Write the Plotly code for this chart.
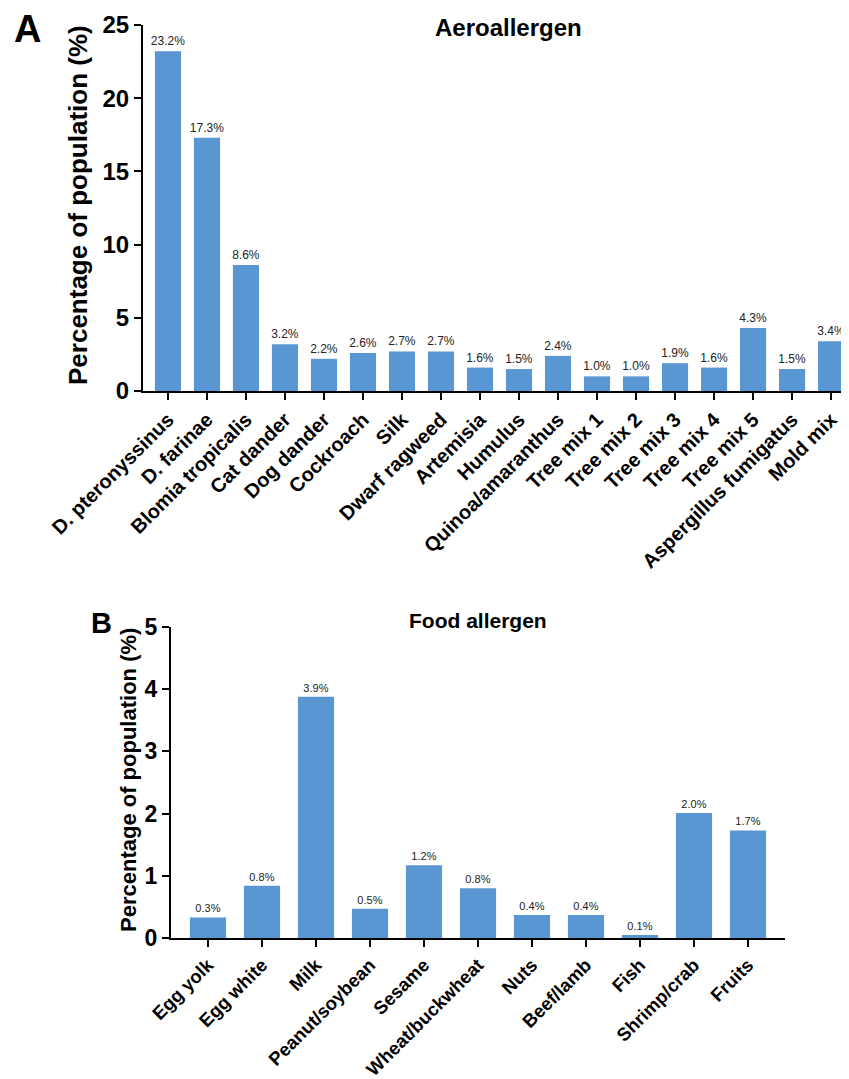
import plotly.graph_objects as go

# page body adds an 8px margin, so the figure is sized to fill the rest of the window
OFF = 8
W, H = 849 - OFF, 1079 - OFF

# ---------------- data ----------------
aero_categories = ["D. pteronyssinus", "D. farinae", "Blomia tropicalis", "Cat dander",
                   "Dog dander", "Cockroach", "Silk", "Dwarf ragweed", "Artemisia",
                   "Humulus", "Quinoa/amaranthus", "Tree mix 1", "Tree mix 2",
                   "Tree mix 3", "Tree mix 4", "Tree mix 5", "Aspergillus fumigatus",
                   "Mold mix"]
aero_values = [23.2, 17.3, 8.6, 3.2, 2.2, 2.6, 2.7, 2.7, 1.6, 1.5, 2.4, 1.0, 1.0,
               1.9, 1.6, 4.3, 1.5, 3.4]
aero_labels = ["23.2%", "17.3%", "8.6%", "3.2%", "2.2%", "2.6%", "2.7%", "2.7%", "1.6%",
               "1.5%", "2.4%", "1.0%", "1.0%", "1.9%", "1.6%", "4.3%", "1.5%", "3.4%"]

food_categories = ["Egg yolk", "Egg white", "Milk", "Peanut/soybean", "Sesame",
                   "Wheat/buckwheat", "Nuts", "Beef/lamb", "Fish", "Shrimp/crab", "Fruits"]
food_values = [0.33, 0.84, 3.88, 0.47, 1.17, 0.80, 0.37, 0.37, 0.05, 2.01, 1.73]
food_labels = ["0.3%", "0.8%", "3.9%", "0.5%", "1.2%", "0.8%", "0.4%", "0.4%", "0.1%",
               "2.0%", "1.7%"]

aero_ticks = [0, 5, 10, 15, 20, 25]
food_ticks = [0, 1, 2, 3, 4, 5]

BAR = "#5a96d2"
FONT = "Liberation Sans, Arial, sans-serif"

def px(x):
    return (x - OFF) / W

def py(y):
    return 1 - (y - OFF) / H

fig = go.Figure()

fig.add_trace(go.Bar(
    x=list(range(len(aero_categories))), y=aero_values, text=aero_labels,
    textposition="outside", cliponaxis=False, constraintext="none", width=0.67,
    marker=dict(color=BAR, line=dict(width=0)),
    textfont=dict(family=FONT, size=12, color="#222"),
    xaxis="x", yaxis="y", showlegend=False))

fig.add_trace(go.Bar(
    x=list(range(len(food_categories))), y=food_values, text=food_labels,
    textposition="outside", cliponaxis=False, constraintext="none", width=0.67,
    marker=dict(color=BAR, line=dict(width=0)),
    textfont=dict(family=FONT, size=11, color="#222"),
    xaxis="x2", yaxis="y2", showlegend=False))

axis_common = dict(showgrid=False, zeroline=False, showline=True, linecolor="black",
                   linewidth=2, ticks="outside", ticklen=7, tickwidth=1.5,
                   tickcolor="black", automargin=False)

def ann(text, x, y, size, angle=0):
    return dict(text=text, x=px(x), y=py(y), xref="paper", yref="paper",
                xanchor="center", yanchor="middle", textangle=angle, borderpad=0,
                showarrow=False, font=dict(family=FONT, size=size, color="black"))

fig.update_layout(
    template="none",
    width=W, height=H,
    margin=dict(l=0, r=0, t=0, b=0, autoexpand=False),
    paper_bgcolor="white", plot_bgcolor="white",
    xaxis=dict(domain=[px(143), 1.0], anchor="y", range=[-0.64, 17.46],
               tickmode="array", tickvals=list(range(len(aero_categories))),
               ticktext=aero_categories, tickangle=-45,
               tickfont=dict(family=FONT, size=20, color="black", weight="bold"),
               **axis_common),
    yaxis=dict(domain=[py(391), py(25)], anchor="x", range=[0, 25],
               tickmode="array", tickvals=aero_ticks,
               tickfont=dict(family=FONT, size=24, color="black", weight="bold"),
               **axis_common),
    xaxis2=dict(domain=[px(171), px(785)], anchor="y2", range=[-0.685, 10.685],
                tickmode="array", tickvals=list(range(len(food_categories))),
                ticktext=food_categories, tickangle=-45,
                tickfont=dict(family=FONT, size=18.5, color="black", weight="bold"),
                **axis_common),
    yaxis2=dict(domain=[py(938), py(627)], anchor="x2", range=[0, 5],
                tickmode="array", tickvals=food_ticks,
                tickfont=dict(family=FONT, size=23, color="black", weight="bold"),
                **axis_common),
    annotations=[
        ann("<b>A</b>", 27, 29, 38),
        ann("<b>B</b>", 101, 623, 29),
        ann("<b>Aeroallergen</b>", 508, 27, 24),
        ann("<b>Food allergen</b>", 478, 620, 21),
        ann("<b>Percentage of population (%)</b>", 78, 205, 26, -90),
        ann("<b>Percentage of population (%)</b>", 128, 780, 22, -90),
    ],
)

fig.write_html("out.html")
